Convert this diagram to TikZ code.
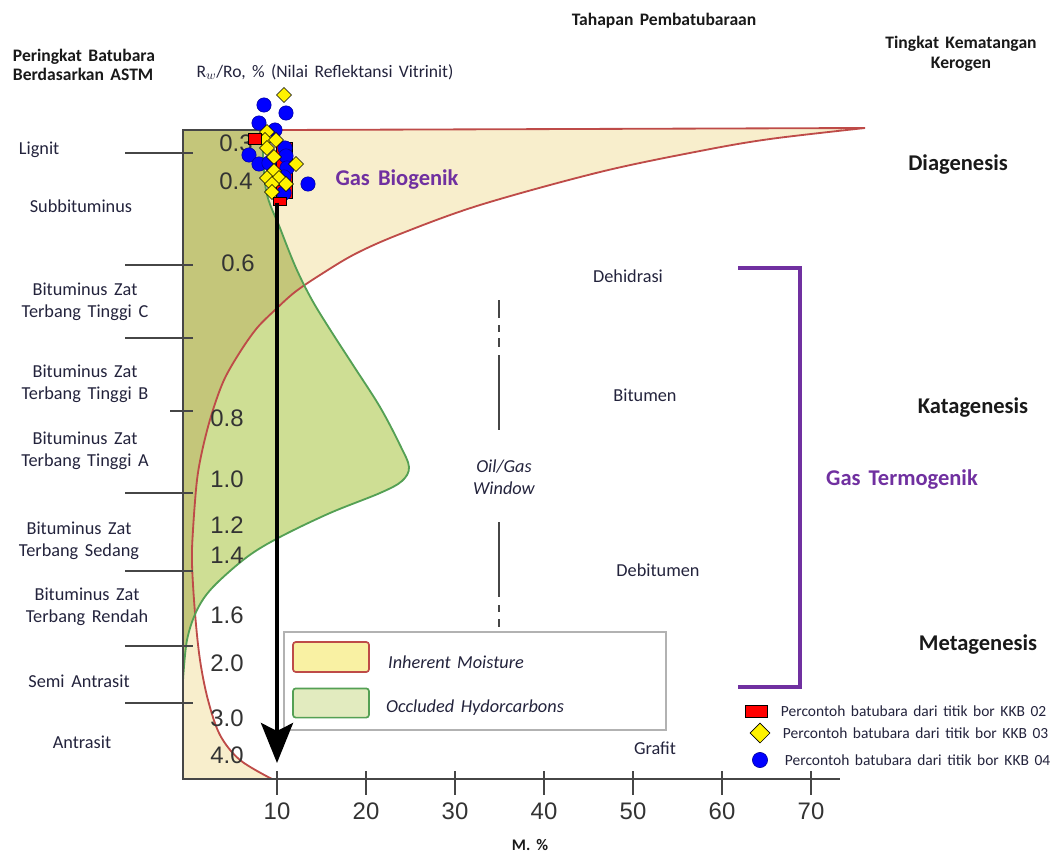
\documentclass[tikz,border=0pt]{standalone}
\usepackage{fontspec}
\setmainfont{Carlito}[WordSpace=1.6]
\newfontfamily\arialfont{Liberation Sans}
\usepackage{xcolor}
\usepackage{tikz}
\usetikzlibrary{shapes.geometric, arrows.meta, positioning}

\definecolor{txtcol}{RGB}{35,35,60}
\definecolor{moistfill}{RGB}{248,238,204}
\definecolor{hcfill}{RGB}{206,222,148}
\definecolor{olivefill}{RGB}{196,198,122}
\definecolor{moistred}{RGB}{190,75,72}
\definecolor{hcgreen}{RGB}{84,160,84}
\definecolor{gaspurple}{RGB}{112,48,160}
\definecolor{axisgray}{RGB}{70,70,70}

\tikzstyle{rank} = [font=\fontsize{13}{15.6}\selectfont, text=txtcol, align=center]
\tikzstyle{rankline} = [draw=axisgray, line width=1.4pt]
\tikzstyle{roval} = [font=\arialfont\fontsize{17}{18}\selectfont, text=black!80]
\tikzstyle{header} = [font=\bfseries\fontsize{12.5}{14}\selectfont, text=black!90]
\tikzstyle{stage} = [font=\bfseries\fontsize{16}{18}\selectfont, text=black!90]
\tikzstyle{gas} = [font=\bfseries\fontsize{16}{18}\selectfont, text=gaspurple]
\tikzstyle{phase} = [font=\fontsize{13}{15.6}\selectfont, text=txtcol]
\tikzstyle{legtext} = [font=\itshape\fontsize{13}{15}\selectfont, text=txtcol]
\tikzstyle{ptext} = [font=\fontsize{11}{13}\selectfont, text=txtcol, anchor=west]
\tikzstyle{kkbtwo} = [rectangle, draw=black, fill=red, minimum width=0.32cm, minimum height=0.28cm, inner sep=0pt]
\tikzstyle{kkbthree} = [diamond, draw=black, fill=yellow, minimum size=0.38cm, inner sep=0pt]
\tikzstyle{kkbfour} = [circle, draw=blue!60!black, fill=blue, minimum size=0.36cm, inner sep=0pt]

% boundary curves (pixel-like units)
\newcommand{\moistcurve}{-- plot[smooth, tension=0.55] coordinates {(865,128) (770,139) (700,151) (600,172) (480,205) (400,234) (355,254) (320,275) (295,292) (275,310) (257,328) (240,352) (224,380) (212,413) (203,447) (197,480) (193,530) (192,563) (195,613) (200,660) (208,700) (220,735) (240,760) (272,779)}}
\newcommand{\hccurve}{-- plot[smooth, tension=0.55] coordinates {(262,130) (266,190) (280,228) (296,268) (312,300) (331,331) (353,365) (380,407) (400,445) (409,467) (402,481) (380,493) (330,513) (280,537) (247,557) (213,587) (197,610) (187,640) (183,680)}}

\begin{document}
\begin{tikzpicture}[x=0.025cm, y=-0.025cm]
    \useasboundingbox (0,0) rectangle (1056,857);

    % Regions
    \fill[moistfill] (183,130) -- (865,128) \moistcurve -- (183,779) -- cycle;
    \fill[hcfill] (183,130) \hccurve -- cycle;
    \begin{scope}
        \clip (183,130) \hccurve -- cycle;
        \fill[olivefill] (183,130) -- (865,128) \moistcurve -- (183,779) -- cycle;
    \end{scope}
    \draw[moistred, line width=1.3pt] (280,130) -- (865,128) \moistcurve;
    \draw[hcgreen, line width=1.3pt] (262,130) \hccurve;

    % Axes
    \draw[axisgray, line width=1.6pt] (280,130) -- (183,130) -- (183,779) -- (840,779);
    \foreach \m in {10,20,...,70} {
        \pgfmathsetmacro\xx{188+8.9*\m}
        \draw[axisgray, line width=1.4pt] (\xx,771) -- (\xx,795);
        \node[roval] (mlab\m) at (\xx,811) {\m};
    }
    \node[header, font=\bfseries\fontsize{11.5}{13}\selectfont] (mlabel) at (530,845) {M. \%};

    % Rank lines and labels
    \foreach \xa/\y in {125/153,125/265,125/338,170/411,125/493,125/571,125/646,125/703}
        \draw[rankline] (\xa,\y) -- (193,\y);
    \node[rank, anchor=west] (lignit) at (14,150) {Lignit};
    \node[rank] (subbit) at (81,206) {Subbituminus};
    \node[rank] (hvc) at (85,302) {Bituminus Zat\\Terbang Tinggi C};
    \node[rank] (hvb) at (85,384) {Bituminus Zat\\Terbang Tinggi B};
    \node[rank] (hva) at (85,451) {Bituminus Zat\\Terbang Tinggi A};
    \node[rank] (mv) at (79,541) {Bituminus Zat\\Terbang Sedang};
    \node[rank] (lv) at (87,607) {Bituminus Zat\\Terbang Rendah};
    \node[rank] (semi) at (79,681) {Semi Antrasit};
    \node[rank] (antra) at (82,742) {Antrasit};

    % Vitrinite reflectance values
    \foreach \v/\x/\y [count=\k] in {0.3/236/143, 0.4/236/181, 0.6/238/263, 0.8/227/418, 1.0/227/479, 1.2/227/525, 1.4/227/555, 1.6/227/615, 2.0/227/663, 3.0/227/718, 4.0/227/755}
        \node[roval] (ro\k) at (\x,\y) {\v};

    % Headers
    \node[header, anchor=west, align=left] (astm) at (8,65) {Peringkat Batubara\\Berdasarkan ASTM};
    \node[font=\fontsize{12.5}{14}\selectfont, text=txtcol] (rohead) at (325,72) {R$_w$/Ro, \% (Nilai Reflektansi Vitrinit)};
    \node[header] (tahapan) at (664,21) {Tahapan Pembatubaraan};
    \node[header, align=center] (kerogen) at (961,54) {Tingkat Kematangan\\Kerogen};

    % Stages
    \node[stage] (diag) at (958,165) {Diagenesis};
    \node[stage] (kata) at (973,408) {Katagenesis};
    \node[stage] (meta) at (978,644) {Metagenesis};
    \node[gas] (termo) at (902,479) {Gas Termogenik};
    \node[gas] (bio) at (397,180) {Gas Biogenik};
    \draw[gaspurple, line width=2.8pt] (738,268) -| (800,687) -- (738,687);

    % Coalification phases
    \node[phase] (dehid) at (628,276) {Dehidrasi};
    \node[phase] (bitum) at (645,395) {Bitumen};
    \node[phase] (debit) at (658,570) {Debitumen};
    \node[phase] (grafit) at (655,748) {Grafit};
    \node[phase, font=\itshape\fontsize{13}{15.6}\selectfont, align=center] (window) at (504,477) {Oil/Gas\\Window};
    \foreach \ya/\yb in {300/318,325/332,338/347,355/430,522/597,605/612,619/627}
        \draw[axisgray, line width=1.2pt] (499,\ya) -- (499,\yb);

    % Legend
    \draw[gray!60, line width=1pt, fill=white] (284,632) rectangle (666,730);
    \node[rectangle, rounded corners=2pt, draw=moistred, line width=1.2pt, fill=moistfill!80!yellow, minimum width=1.9cm, minimum height=0.75cm] (legmoist) at (331,657) {};
    \node[rectangle, rounded corners=2pt, draw=hcgreen, line width=1.2pt, fill=hcfill!60!white, minimum width=1.9cm, minimum height=0.73cm] (leghc) at (331,703) {};
    \node[legtext] (legmoisttxt) at (456,662) {Inherent Moisture};
    \node[legtext] (leghctxt) at (475,708) {Occluded Hydorcarbons};

    % Samples
    \node[kkbtwo, minimum width=0.4cm, minimum height=1.4cm] (kkbstack) at (284,170) {};
    \foreach \x/\y in {264/105,286/113,259/123,275/130,249/155,259/164,285/148,286/156,269/163,287/168,284/177,308/184,284/193}
        \node[kkbfour] at (\x,\y) {};
    \foreach \x/\y in {284/95,267/132,265/140,276/140,267/148,274/157,296/164,274/171,267/178,279/178,286/184,272/184,272/192}
        \node[kkbthree] at (\x,\y) {};
    \node[kkbtwo] (kkbtop) at (255,139) {};
    \node[kkbtwo, minimum height=0.2cm] (kkbbot) at (280,201) {};

    % Maturity arrow
    \coordinate (arrtop) at (277,203);
    \coordinate (arrtip) at (277,763);
    \draw[black, line width=2.8pt, -{Stealth[length=1cm, width=0.8cm, inset=0.2cm]}] (arrtop) -- (arrtip);

    % Sample legend
    \node[kkbtwo, minimum width=0.55cm, minimum height=0.3cm] (symtwo) at (756,711) {};
    \node[kkbthree, minimum size=0.5cm] (symthree) at (760,733) {};
    \node[kkbfour, minimum size=0.38cm] (symfour) at (760,760) {};
    \node[ptext] (txttwo) at (776,711) {Percontoh batubara dari titik bor KKB 02};
    \node[ptext] (txtthree) at (778,733) {Percontoh batubara dari titik bor KKB 03};
    \node[ptext] (txtfour) at (780,760) {Percontoh batubara dari titik bor KKB 04};
\end{tikzpicture}
\end{document}
